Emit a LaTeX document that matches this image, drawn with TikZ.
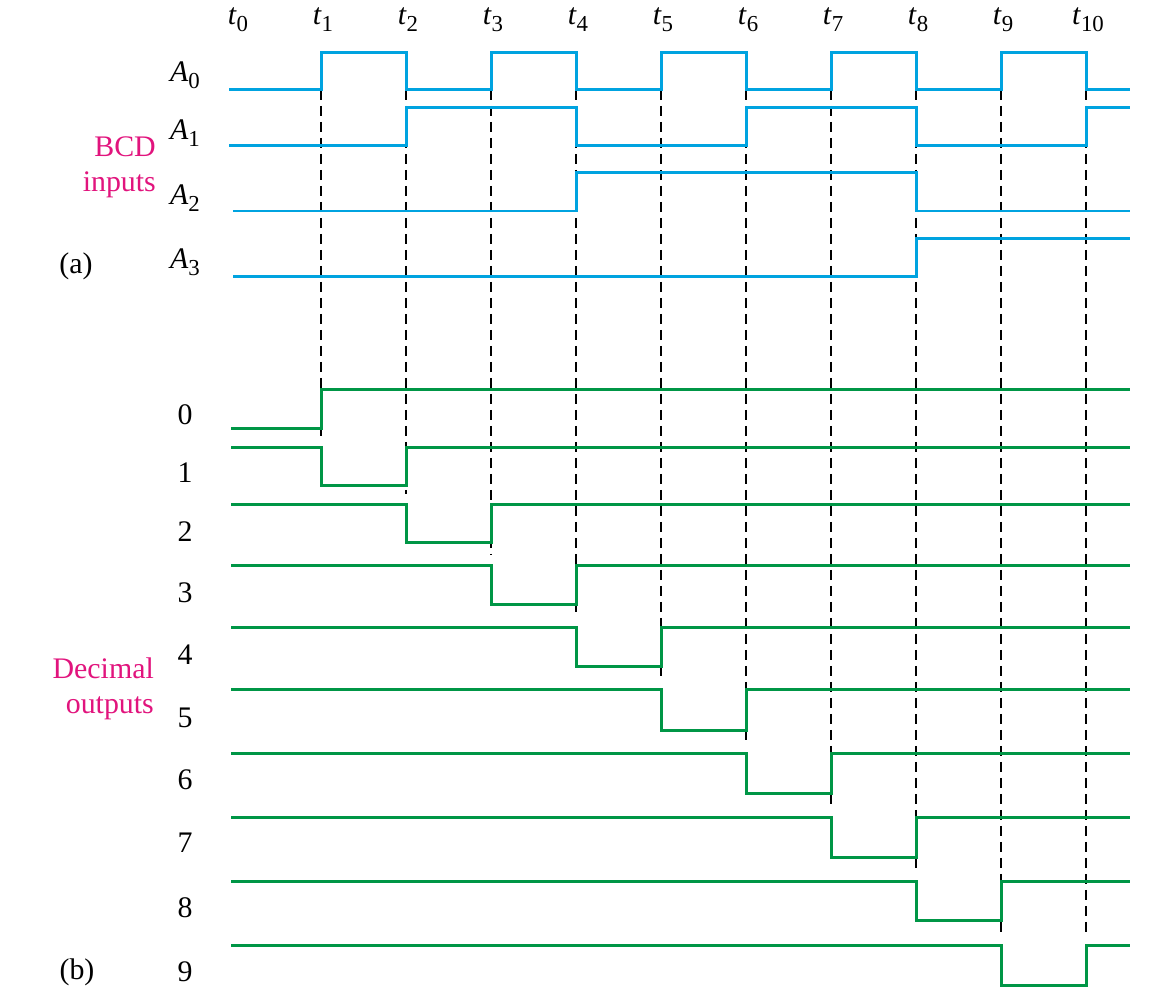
\documentclass[tikz,border=0pt]{standalone}
\usepackage{fontspec}
\setmainfont{Liberation Serif}
\definecolor{bcdblue}{RGB}{0,163,224}
\definecolor{decgreen}{RGB}{0,150,70}
\definecolor{labelpink}{RGB}{225,20,125}
\newcommand{\signame}[2]{\textit{#1}\raisebox{-0.5ex}{\fontsize{13}{15}\selectfont #2}}

\begin{document}
\begin{tikzpicture}[x = 0.02cm, y = -0.02cm,
        inwave/.style = {bcdblue, line width = 0.06cm},
        outwave/.style = {decgreen, line width = 0.06cm},
        tmark/.style = {black, line width = 0.03cm, dash pattern = on 0.2cm off 0.12cm},
        lbl/.style = {font = \fontsize{17}{20}\selectfont},
        sidetext/.style = {labelpink, align = right, anchor = east, font = \fontsize{17}{20}\selectfont}
    ]
        \useasboundingbox (0,0) rectangle (1162,1000);

        % dashed time marks
        \foreach \k/\yend in {1/437, 2/494, 3/555, 4/617, 5/679, 6/743, 7/807, 8/871, 9/935, 10/935}
            \draw[tmark] (236+85*\k, 90) -- (236+85*\k, \yend);

        \foreach \k in {0,...,10}
            \node[lbl] (t\k) at (238+85*\k, 20) {\signame{t}{\k}};

        % BCD inputs
        \draw[inwave] (229,90) -| (321,53) -| (406,90) -| (491,53) -| (576,90) -| (661,53) -| (746,90) -| (831,53) -| (916,90) -| (1001,53) -| (1086,90) -- (1130,90);
        \draw[inwave] (229,146) -| (406,108) -| (576,146) -| (746,108) -| (916,146) -| (1086,108) -- (1130,108);
        \draw[inwave] (233,211) -| (576,173) -| (916,211) -- (1130,211);
        \draw[inwave] (233,276) -| (916,238) -- (1130,238);

        \node[lbl] (A0) at (185,75) {\signame{A}{0}};
        \node[lbl] (A1) at (185,133) {\signame{A}{1}};
        \node[lbl] (A2) at (185,198) {\signame{A}{2}};
        \node[lbl] (A3) at (185,262) {\signame{A}{3}};

        % decimal outputs
        \draw[outwave] (231,428) -| (321,389) -- (1130,389);
        \foreach \k/\yh/\yl in {1/447/485, 2/504/542, 3/565/604, 4/627/666, 5/689/730, 6/753/793, 7/817/857, 8/881/920, 9/945/985}
            \draw[outwave] (231,\yh) -| (236+85*\k, \yl) -| (321+85*\k, \yh) -- (1130,\yh);

        \foreach \k/\yy in {0/415, 1/473, 2/532, 3/593, 4/655, 5/718, 6/780, 7/843, 8/908, 9/972}
            \node[lbl] (d\k) at (185,\yy) {\k};

        \node[sidetext] (bcd) at (162,167) {BCD\\inputs};
        \node[sidetext] (dec) at (160,689) {Decimal\\outputs};
        \node[lbl] (parta) at (76,266) {(a)};
        \node[lbl] (partb) at (77,972) {(b)};

    \end{tikzpicture}
\end{document}
